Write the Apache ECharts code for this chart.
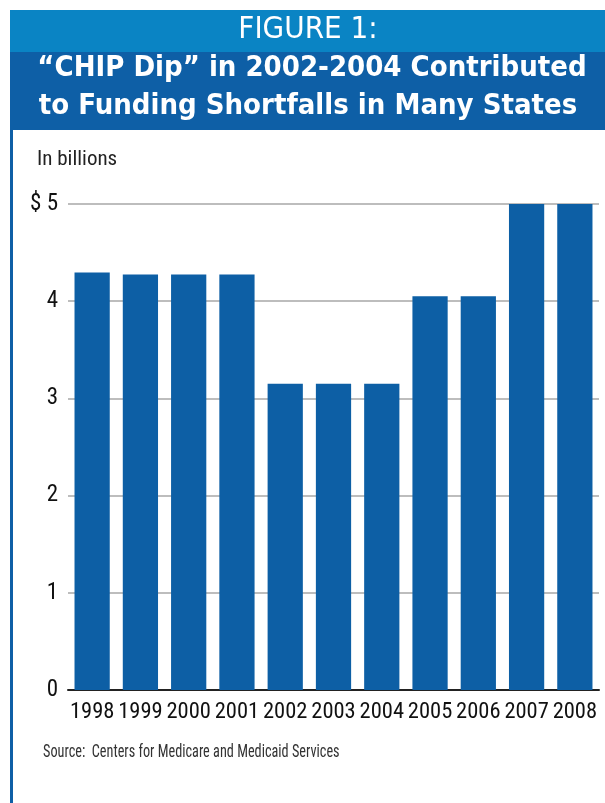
<!DOCTYPE html>
<html><head><meta charset="utf-8">
<script src="https://cdn.jsdelivr.net/npm/echarts@6/dist/echarts.min.js"></script>
<style>html,body{margin:0;padding:0;background:#fff}#c{width:605px;height:803px}</style>
</head><body><div id="c"></div>
<script>
const years = ['1998','1999','2000','2001','2002','2003','2004','2005','2006','2007','2008'];
const funding = [4.295, 4.275, 4.275, 4.275, 3.15, 3.15, 3.15, 4.05, 4.05, 5.0, 5.0];
const yTicks = [0, 1, 2, 3, 4, 5];

const chart = echarts.init(document.getElementById('c'), null, {renderer:'canvas'});
const condensed = '"Roboto Condensed", "DejaVu Sans Condensed", sans-serif';
const titleFont = '"DejaVu Sans Condensed", "Roboto Condensed", sans-serif';
chart.setOption({
  animation: false,
  graphic: [
    {type:'rect', shape:{x:10,y:10,width:595,height:42}, style:{fill:'#0a84c4'}, z:1},
    {type:'rect', shape:{x:10,y:52,width:595,height:78}, style:{fill:'#0e5fa6'}, z:1},
    {type:'rect', shape:{x:10,y:130,width:3,height:673}, style:{fill:'#0e5fa6'}, z:1},
    {type:'text', x:308, y:14, style:{text:'FIGURE 1:', fill:'#fff', font:'31px ' + titleFont, align:'center'}, z:2},
    {type:'text', x:312, y:54, style:{text:'\u201CCHIP Dip\u201D in 2002-2004 Contributed', fill:'#fff', font:'bold 29px ' + titleFont, align:'center'}, z:2},
    {type:'text', x:308, y:92, style:{text:'to Funding Shortfalls in Many States', fill:'#fff', font:'bold 29px ' + titleFont, align:'center'}, z:2},
    {type:'text', left:37, top:149, style:{text:'In billions', fill:'#222', font:'21px ' + condensed}, z:2},
    {type:'text', x:43, y:743, scaleX:0.75, originX:0, style:{text:'Source:  Centers for Medicare and Medicaid Services', fill:'#333', font:'19px ' + condensed}, z:2}
  ],
  grid: {left:68, right:6, top:204, bottom:113, containLabel:false},
  xAxis: {
    type:'category', data: years,
    axisLine:{show:true, lineStyle:{color:'#222', width:2}},
    axisTick:{show:false},
    axisLabel:{color:'#111', fontSize:22.5, fontFamily: condensed, margin:11, interval:0}
  },
  yAxis: {
    type:'value', min:0, max:5, interval:1,
    axisLine:{show:false}, axisTick:{show:false},
    splitLine:{lineStyle:{color:'#bdbdbd', width:2}},
    axisLabel:{color:'#111', fontSize:23, fontFamily: condensed, margin:10,
      formatter: v => yTicks.includes(v) ? (v === 5 ? '$ 5' : String(v)) : ''}
  },
  series: [{
    type:'bar', data: funding, barCategoryGap:'27%',
    itemStyle:{color:'#0d5fa5'}
  }]
});
</script></body></html>
